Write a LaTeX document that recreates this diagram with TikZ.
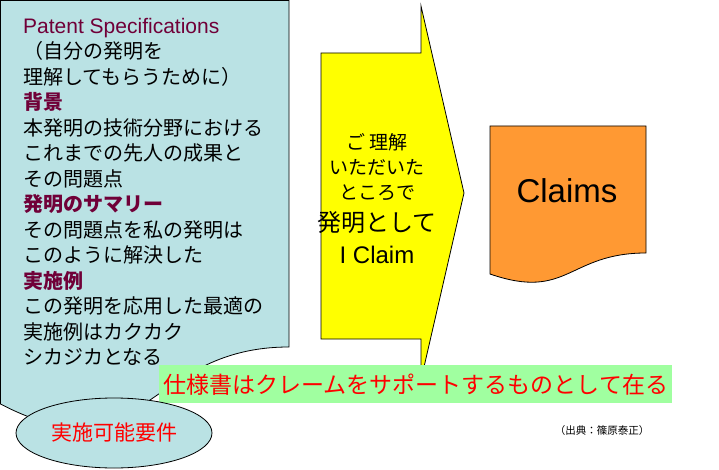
\documentclass[tikz,border=0pt]{standalone}
\usepackage{fontspec}
\setmainfont{Liberation Sans}
\newfontfamily\jp{Noto Sans CJK JP}
\usetikzlibrary{positioning}
\usetikzlibrary{shapes.geometric}
\definecolor{specblue}{RGB}{186,226,228}
\definecolor{headred}{RGB}{112,0,56}
\definecolor{arrowyellow}{RGB}{255,255,0}
\definecolor{claimorange}{RGB}{255,153,51}
\definecolor{bannergreen}{RGB}{160,255,160}
\tikzset{ShapeStyle/.style={draw=black,line width=0.8pt,line join=miter}}
\tikzset{BodyStyle/.style={font=\jp\fontsize{20}{25.5}\selectfont,align=left,inner sep=0pt}}
\tikzset{ArrowText/.style={font=\jp\fontsize{19}{19}\selectfont,inner sep=0pt}}
\tikzset{ArrowBig/.style={font=\fontsize{24}{24}\selectfont,inner sep=0pt}}

\begin{document}
\begin{tikzpicture}[x=1pt,y=-1pt]
        \useasboundingbox (0,0) rectangle (719,470);
        % specification sheet
        \draw[ShapeStyle,fill=specblue] (0.5,0.5) -- (289,0.5) -- (289,347)
            .. controls (144.5,347) and (144.5,479) .. (0.5,404) -- cycle;
        \node[BodyStyle,anchor=north west] (spec) at (23,18) {%
            {\rmfamily\fontsize{21}{25.5}\selectfont\color{headred}Patent Specifications}\\
            （自分の発明を\\
            理解してもらうために）\\
            {\bfseries\color{headred}背景}\\
            本発明の技術分野における\\
            これまでの先人の成果と\\
            その問題点\\
            {\bfseries\color{headred}発明のサマリー}\\
            その問題点を私の発明は\\
            このように解決した\\
            {\bfseries\color{headred}実施例}\\
            この発明を応用した最適の\\
            実施例はカクカク\\
            シカジカとなる};
        % arrow
        \draw[ShapeStyle,fill=arrowyellow] (321,53) -- (421,53) -- (421,6)
            -- (464,193) -- (421,380) -- (421,339) -- (321,339) -- cycle;
        \node[ArrowText] (a1) at (377,142) {ご 理解};
        \node[ArrowText] (a2) at (377,167) {いただいた};
        \node[ArrowText] (a3) at (377,193) {ところで};
        \node[ArrowBig] (a4) at (377,222) {\jp 発明として};
        \node[ArrowBig] (a5) at (377,255) {I Claim};
        % claims sheet
        \draw[ShapeStyle,fill=claimorange] (490,126) -- (646,126) -- (646,253)
            .. controls (568,253) and (568,301) .. (490,274) -- cycle;
        \node[font=\fontsize{33}{33}\selectfont,inner sep=0pt] (claims) at (567,191) {Claims};
        % banner
        \node[fill=bannergreen,minimum width=513pt,minimum height=38pt,inner sep=0pt,
            anchor=north west,text=red,font=\jp\fontsize{23}{23}\selectfont] (support) at (159,365)
            {仕様書はクレームをサポートするものとして在る};
        \node[ellipse,ShapeStyle,fill=specblue,minimum width=196pt,minimum height=70pt,
            inner sep=0pt,text=red,font=\jp\fontsize{21}{21}\selectfont] (req) at (114,433) {実施可能要件};
        \node[font=\jp\fontsize{10.5}{10.5}\selectfont,inner sep=0pt] (source) at (602,431) {（出典：篠原泰正）};
    \end{tikzpicture}
\end{document}
